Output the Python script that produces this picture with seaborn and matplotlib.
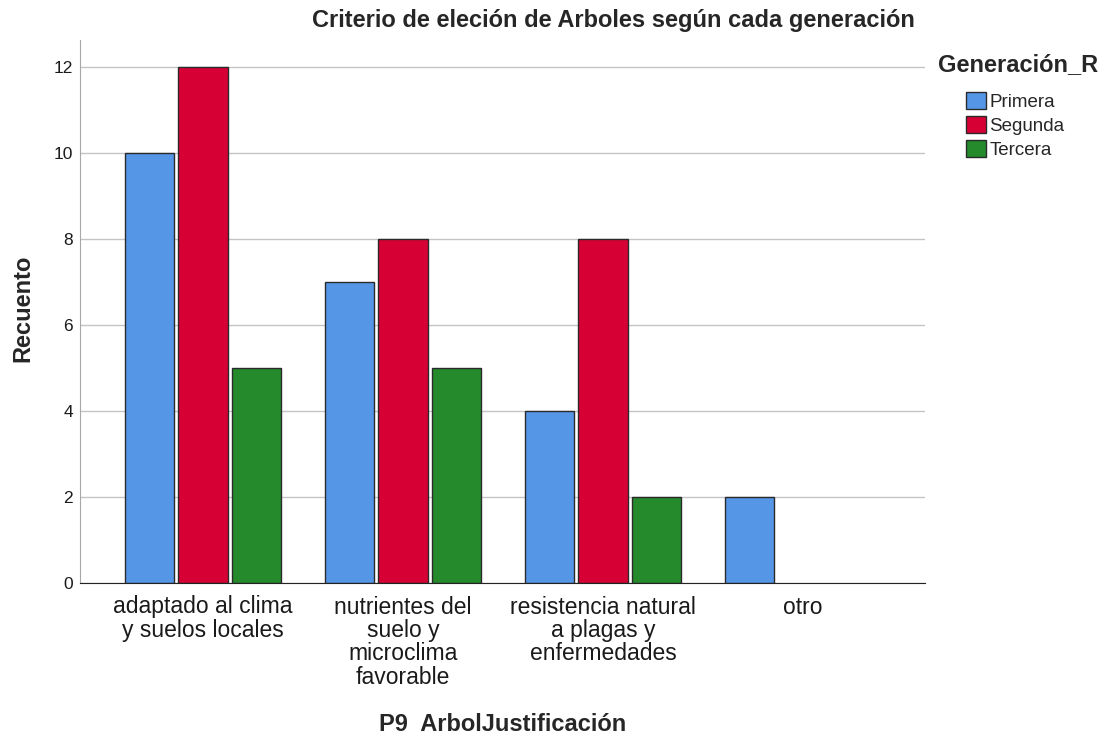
import pandas as pd
import matplotlib.pyplot as plt
import seaborn as sns

# data
categorias = [
    "adaptado al clima\ny suelos locales",
    "nutrientes del\nsuelo y\nmicroclima\nfavorable",
    "resistencia natural\na plagas y\nenfermedades",
    "otro",
]
generaciones = ["Primera", "Segunda", "Tercera"]
primera = [10, 7, 4, 2]
segunda = [12, 8, 8, None]
tercera = [5, 5, 2, None]
colores = ["#5696E6", "#D70034", "#248A2C"]

rows = []
for serie, gen in zip([primera, segunda, tercera], generaciones):
    for cat, val in zip(categorias, serie):
        if val is not None:
            rows.append({"cat": cat, "gen": gen, "n": val})
df = pd.DataFrame(rows)

sns.set_style("white")
plt.rcParams["font.family"] = ["Liberation Sans", "DejaVu Sans"]

fig = plt.figure(figsize=(11.02, 7.34), dpi=100)
ax = fig.add_axes([80 / 1102, 1 - 583 / 734, 845 / 1102, 543 / 734])

sns.barplot(
    data=df, x="cat", y="n", hue="gen",
    order=categorias, hue_order=generaciones,
    palette=colores, saturation=1, width=0.8, gap=0.08,
    edgecolor="#2a2a2a", linewidth=1.0,
    legend=False, ax=ax, zorder=3,
)

ax.set_xlim(-0.615, 3.61)
ax.set_ylim(0, 12.63)
ax.set_yticks(range(0, 13, 2))
ax.yaxis.grid(True, color="#c4c4c4", linewidth=1.0, zorder=0)
ax.set_axisbelow(True)
ax.tick_params(axis="y", length=0, pad=5, labelsize=12.5, colors="#1a1a1a")
ax.tick_params(axis="x", length=0, pad=9, labelsize=16.5, colors="#1a1a1a")
for lbl in ax.get_xticklabels():
    lbl.set_linespacing(1.02)

for s in ["top", "right"]:
    ax.spines[s].set_visible(False)
ax.spines["left"].set_color("#a8a8a8")
ax.spines["bottom"].set_color("#222222")
ax.spines["bottom"].set_zorder(4)

ax.set_ylabel("Recuento", fontsize=17, fontweight="bold")
ax.set_xlabel("P9  ArbolJustificación", fontsize=17, fontweight="bold")
ax.yaxis.set_label_coords(-0.054, 0.505)
ax.xaxis.label.set_va("baseline")
ax.xaxis.set_label_coords(0.5, -0.273)

fig.text(613 / 1102, 1 - 21 / 734, "Criterio de eleción de Arboles según cada generación",
         ha="center", va="center", fontsize=17, fontweight="bold")

# legend
fig.text(938 / 1102, 1 - 65 / 734, "Generación_R", ha="left", va="center",
         fontsize=17, fontweight="bold")
handles = [plt.Rectangle((0, 0), 1, 1, facecolor=c, edgecolor="#2a2a2a", linewidth=1.0)
           for c in colores]
fig.legend(handles, generaciones, loc="upper left",
           bbox_to_anchor=(966 / 1102, 1 - 92 / 734), frameon=False,
           fontsize=13.5, handlelength=1.05, handleheight=1.05,
           handletextpad=0.2, labelspacing=0.25, borderpad=0, borderaxespad=0)

fig.savefig("out.png", dpi=100)
